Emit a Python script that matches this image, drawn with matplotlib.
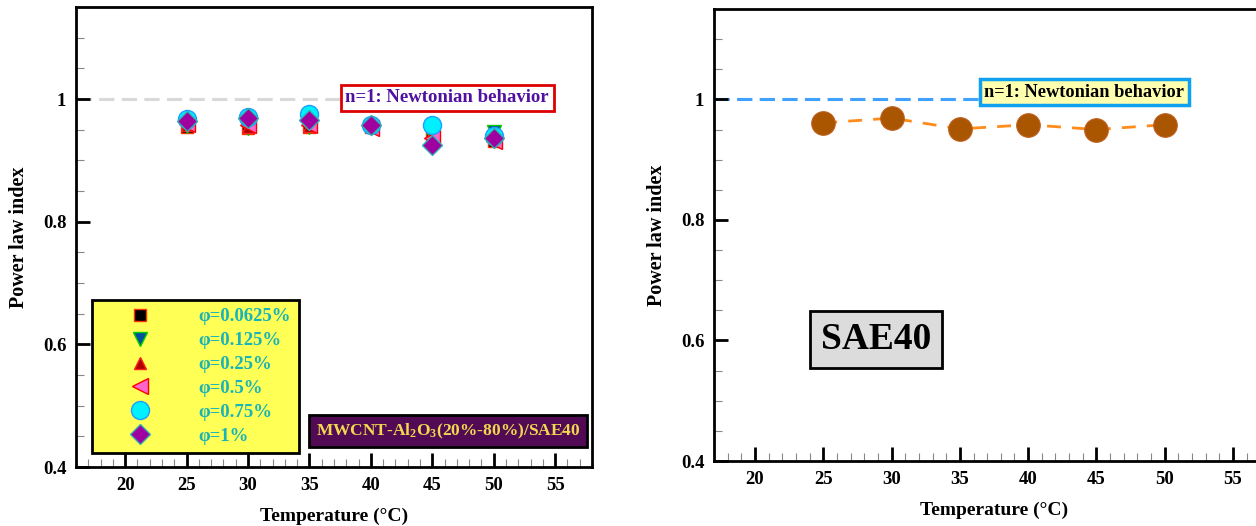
import matplotlib.pyplot as plt
from matplotlib.ticker import MultipleLocator, FormatStrFormatter

plt.rcParams['font.family'] = ['Liberation Serif', 'DejaVu Serif']
plt.rcParams['font.weight'] = 'bold'
plt.rcParams['mathtext.fontset'] = 'custom'
plt.rcParams['mathtext.rm'] = 'Liberation Serif:bold'
plt.rcParams['mathtext.default'] = 'rm'

# data
temps = [25, 30, 35, 40, 45, 50]
phi_labels = ['φ=0.0625%', 'φ=0.125%', 'φ=0.25%', 'φ=0.5%', 'φ=0.75%', 'φ=1%']
n_00625 = [0.955, 0.953, 0.954, 0.955, 0.938, 0.931]
n_0125 = [0.956, 0.952, 0.955, 0.954, 0.940, 0.946]
n_025 = [0.958, 0.955, 0.956, 0.956, 0.942, 0.936]
n_05 = [0.960, 0.957, 0.958, 0.953, 0.936, 0.932]
n_075 = [0.968, 0.971, 0.975, 0.958, 0.957, 0.939]
n_1 = [0.964, 0.969, 0.965, 0.957, 0.925, 0.937]
n_sae40 = [0.961, 0.969, 0.951, 0.958, 0.950, 0.958]

series = [n_00625, n_0125, n_025, n_05, n_075, n_1]
# marker, size, face, edge
styles = [('s', 9, 'black', '#ff3300'),
          ('v', 10, '#0050a0', '#00cc00'),
          ('^', 9, '#b00000', '#ff2020'),
          ('<', 11, '#ff66cc', '#ff0000'),
          ('o', 13, '#00f0ff', '#1a9fff'),
          ('D', 10, '#a000a0', '#30b0b0')]

fig = plt.figure(figsize=(12.56, 5.26), dpi=100)
ax1 = fig.add_axes([76/1256, 59/526, 516/1256, 460/526])
ax2 = fig.add_axes([714/1256, 65/526, 560/1256, 452/526])


def style_axes(ax, xmin):
    ax.set_xlim(xmin, 58)
    ax.set_ylim(0.4, 1.15)
    ax.xaxis.set_major_locator(MultipleLocator(5))
    ax.xaxis.set_minor_locator(MultipleLocator(1))
    ax.yaxis.set_major_locator(MultipleLocator(0.2))
    ax.yaxis.set_minor_locator(MultipleLocator(0.05))
    ax.yaxis.set_major_formatter(FormatStrFormatter('%g'))
    ax.tick_params(which='major', direction='in', length=10, width=2, labelsize=13.5, pad=7,
                   top=False, right=False)
    ax.tick_params(which='minor', direction='in', length=6, width=0.8, color='#888888',
                   top=False, right=False)
    for sp in ax.spines.values():
        sp.set_linewidth(2)
    ax.set_xlabel('Temperature (°C)', fontsize=14, fontweight='bold', labelpad=10)
    ax.set_ylabel('Power law index', fontsize=14.5, fontweight='bold', labelpad=10)
    for lab in ax.get_xticklabels() + ax.get_yticklabels():
        lab.set_fontweight('bold')


style_axes(ax1, 16)
style_axes(ax2, 17)

# left panel
ax1.plot([16, 37.6], [1, 1], color='#d9d9d9', lw=2.2, dashes=(5, 2.4), zorder=1)
for vals, lab, (m, ms, fc, ec) in zip(series, phi_labels, styles):
    ax1.plot(temps, vals, linestyle='none', marker=m, markersize=ms,
             markerfacecolor=fc, markeredgecolor=ec, markeredgewidth=1, label=lab, zorder=3)

leg = ax1.legend(loc='lower left', bbox_to_anchor=(0.031, 0.030), borderaxespad=0,
                 fancybox=False, framealpha=1, facecolor='#ffff55', edgecolor='black',
                 prop={'family': 'Liberation Serif', 'weight': 'bold', 'size': 13.5},
                 labelcolor='#18b4b8', handlelength=4.2, handletextpad=1.0,
                 labelspacing=0.36, borderpad=0.45)
leg.get_frame().set_linewidth(2)

ax1.text(46.2, 1.002, 'n=1: Newtonian behavior', fontsize=13.5, fontweight='bold',
         color='#5010a0', ha='center', va='center', zorder=5,
         bbox=dict(boxstyle='square,pad=0.25', facecolor='white', edgecolor='#dd0000', linewidth=2))
ax1.text(46.3, 0.4585, 'MWCNT-Al$_2$O$_3$(20%-80%)/SAE40', fontsize=12.5, fontweight='bold',
         color='#f0d850', ha='center', va='center', zorder=5,
         bbox=dict(boxstyle='square,pad=0.38', facecolor='#520a55', edgecolor='black', linewidth=2))

# right panel
ax2.plot([17, 36.6], [1, 1], color='#3fa0ff', lw=2.2, dashes=(5, 2.4), zorder=1)
ax2.plot(temps, n_sae40, color='#ff8c1a', lw=2, dashes=(5, 4), marker='o', markersize=17,
         markerfacecolor='#aa5500', markeredgecolor='#c06020', markeredgewidth=0.8, zorder=3)
ax2.text(44.12, 1.012, 'n=1: Newtonian behavior', fontsize=13.2, fontweight='bold',
         color='black', ha='center', va='center', zorder=5,
         bbox=dict(boxstyle='square,pad=0.25', facecolor='#ffffb0', edgecolor='#10a0f0', linewidth=2.5))
ax2.text(28.86, 0.6017, 'SAE40', fontsize=27, fontweight='bold', color='black',
         ha='center', va='center', zorder=5,
         bbox=dict(boxstyle='square,pad=0.3', facecolor='#dcdcdc', edgecolor='black', linewidth=2))

fig.savefig('out.png', dpi=100)
